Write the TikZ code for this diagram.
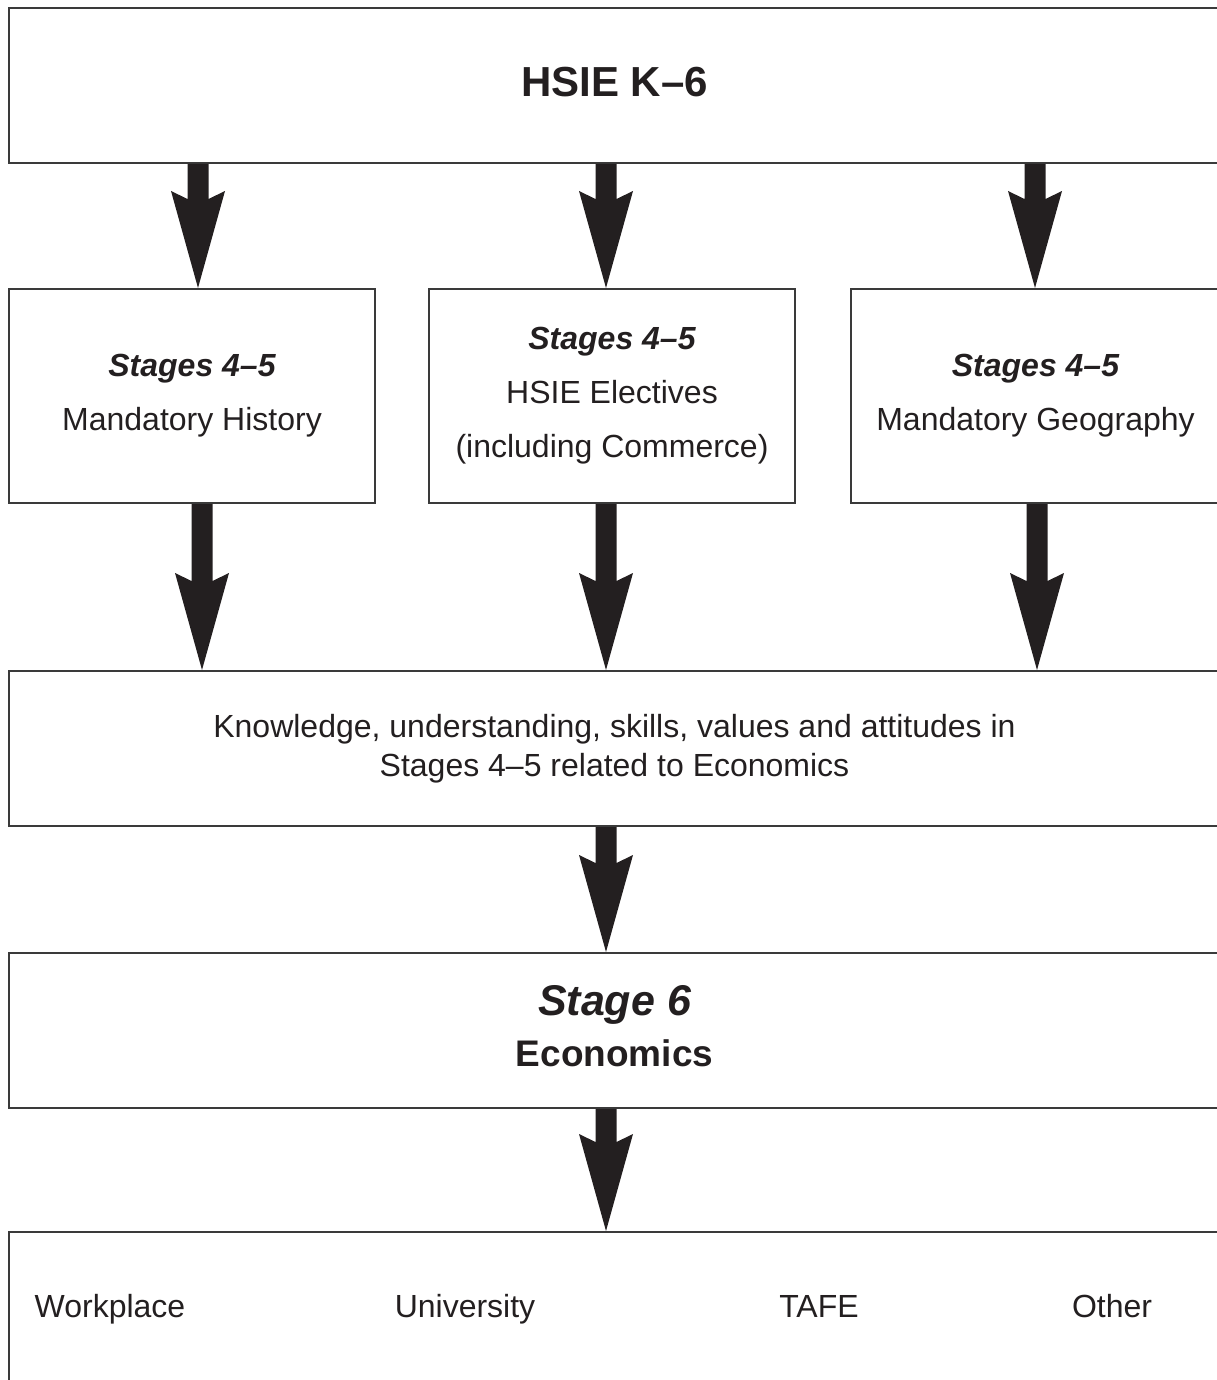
\documentclass[tikz,border=0pt]{standalone}
\usepackage{fontspec}
\setmainfont{Liberation Sans}
\usetikzlibrary{calc}
\definecolor{ink}{HTML}{231F20}
\definecolor{frame}{HTML}{3A3A3A}
\newcommand\fatarrow[2]{%
  \fill[ink] ($(#1)+(-10.5,0)$) -- ($(#2)+(-10.5,-89)$) -- ($(#2)+(-27,-97)$) -- (#2)
    -- ($(#2)+(27,-97)$) -- ($(#2)+(10.5,-89)$) -- ($(#1)+(10.5,0)$) -- cycle;}
\begin{document}
\begin{tikzpicture}[x=0.5pt,y=-0.5pt,
  box/.style={draw=frame, line width=1pt, anchor=north west, inner sep=0pt,
    align=center, text=ink, font=\fontsize{16}{27}\selectfont},
  widebox/.style={box, minimum width=605.5pt, minimum height=77.5pt},
  midbox/.style={box, minimum width=183pt, minimum height=107pt},
  lbl/.style={anchor=base, inner sep=0pt, text=ink, font=\fontsize{16}{19}\selectfont}]
\useasboundingbox (0,0) rectangle (1216,1380);

\node[widebox, text depth=3.3pt, font=\fontsize{21}{25}\selectfont\bfseries] (hsie) at (8,7) {HSIE K–6};

\node[midbox] (hist) at (8,288) {{\bfseries\itshape Stages 4–5}\\Mandatory History};
\node[midbox] (elec) at (428,288) {{\bfseries\itshape Stages 4–5}\\HSIE Electives\\(including Commerce)};
\node[midbox, minimum width=184.5pt] (geo) at (850,288) {{\bfseries\itshape Stages 4–5}\\Mandatory Geography};

\node[widebox, font=\fontsize{16}{19.5}\selectfont] (know) at (8,670)
  {Knowledge, understanding, skills, values and attitudes in\\Stages 4–5 related to Economics};

\node[widebox, text depth=4.5pt, font=\fontsize{18.5}{25.5}\selectfont\bfseries] (st6) at (8,952)
  {{\fontsize{21.5}{25.5}\selectfont\itshape Stage 6}\\Economics};

\node[widebox, minimum height=80.5pt] (dest) at (8,1231) {};
\node[lbl] (work) at (110,1317) {Workplace};
\node[lbl] (uni) at (465,1317) {University};
\node[lbl] (tafe) at (819,1317) {TAFE};
\node[lbl] (other) at (1112,1317) {Other};

\coordinate (a1s) at (198,0 |- hsie.south);
\coordinate (a1e) at (198,0 |- hist.north);
\coordinate (a2s) at (606,0 |- hsie.south);
\coordinate (a2e) at (606,0 |- elec.north);
\coordinate (a3s) at (1035,0 |- hsie.south);
\coordinate (a3e) at (1035,0 |- geo.north);
\coordinate (b1s) at (202,0 |- hist.south);
\coordinate (b1e) at (202,0 |- know.north);
\coordinate (b2s) at (606,0 |- elec.south);
\coordinate (b2e) at (606,0 |- know.north);
\coordinate (b3s) at (1037,0 |- geo.south);
\coordinate (b3e) at (1037,0 |- know.north);
\coordinate (c1s) at (606,0 |- know.south);
\coordinate (c1e) at (606,0 |- st6.north);
\coordinate (d1s) at (606,0 |- st6.south);
\coordinate (d1e) at (606,0 |- dest.north);

\fatarrow{a1s}{a1e}
\fatarrow{a2s}{a2e}
\fatarrow{a3s}{a3e}
\fatarrow{b1s}{b1e}
\fatarrow{b2s}{b2e}
\fatarrow{b3s}{b3e}
\fatarrow{c1s}{c1e}
\fatarrow{d1s}{d1e}
\end{tikzpicture}
\end{document}
